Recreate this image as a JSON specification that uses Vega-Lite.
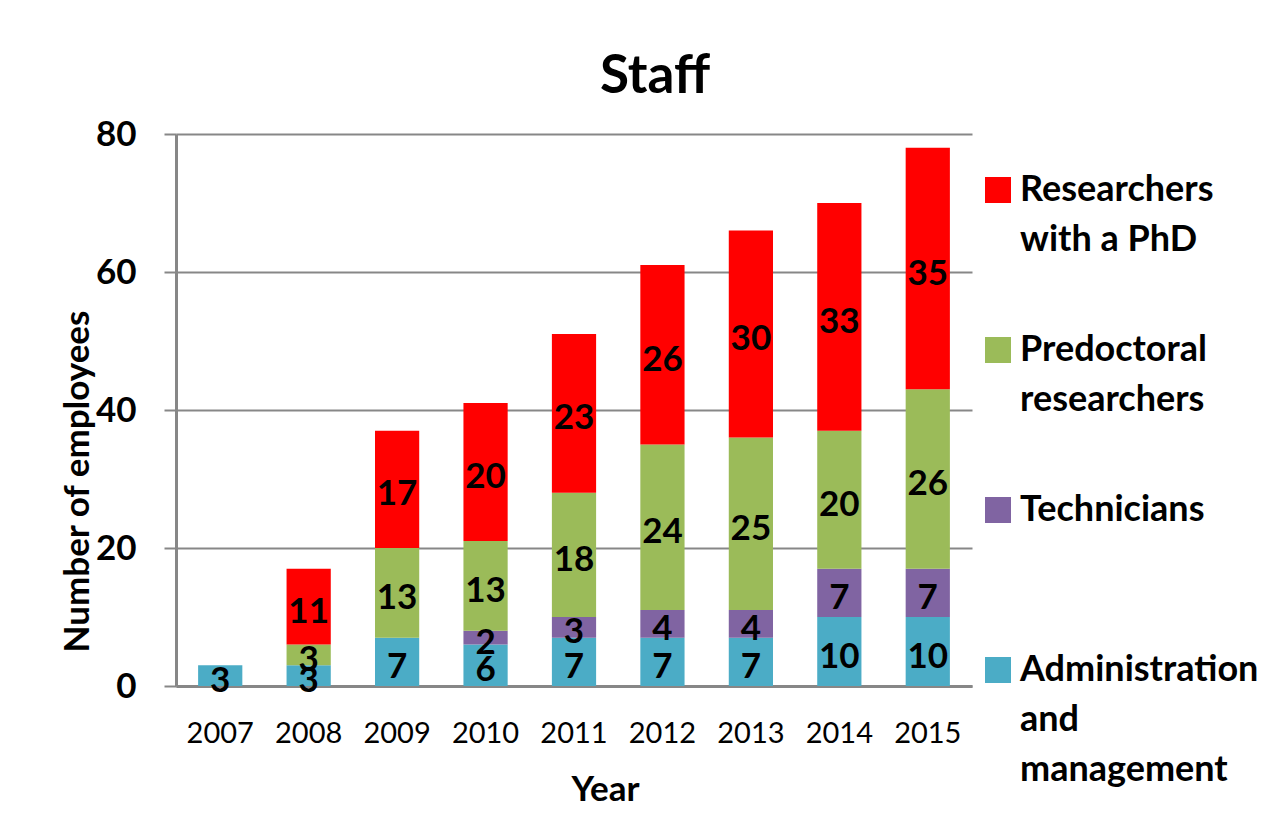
{
  "$schema": "https://vega.github.io/schema/vega-lite/v6.json",
  "width": 796,
  "height": 552,
  "autosize": "none",
  "padding": {"left": 176, "top": 134, "right": 309, "bottom": 146},
  "background": "white",
  "title": {"text": "Staff", "font": "Lato", "fontSize": 53, "fontWeight": "bold", "color": "black", "anchor": "middle", "dx": 81, "dy": 53, "offset": 24, "baseline": "alphabetic"},
  "data": {"values": [
    {"year": "2007", "category": "Administration and management", "employees": 3},
    {"year": "2008", "category": "Administration and management", "employees": 3},
    {"year": "2008", "category": "Predoctoral researchers", "employees": 3},
    {"year": "2008", "category": "Researchers with a PhD", "employees": 11},
    {"year": "2009", "category": "Administration and management", "employees": 7},
    {"year": "2009", "category": "Predoctoral researchers", "employees": 13},
    {"year": "2009", "category": "Researchers with a PhD", "employees": 17},
    {"year": "2010", "category": "Administration and management", "employees": 6},
    {"year": "2010", "category": "Technicians", "employees": 2},
    {"year": "2010", "category": "Predoctoral researchers", "employees": 13},
    {"year": "2010", "category": "Researchers with a PhD", "employees": 20},
    {"year": "2011", "category": "Administration and management", "employees": 7},
    {"year": "2011", "category": "Technicians", "employees": 3},
    {"year": "2011", "category": "Predoctoral researchers", "employees": 18},
    {"year": "2011", "category": "Researchers with a PhD", "employees": 23},
    {"year": "2012", "category": "Administration and management", "employees": 7},
    {"year": "2012", "category": "Technicians", "employees": 4},
    {"year": "2012", "category": "Predoctoral researchers", "employees": 24},
    {"year": "2012", "category": "Researchers with a PhD", "employees": 26},
    {"year": "2013", "category": "Administration and management", "employees": 7},
    {"year": "2013", "category": "Technicians", "employees": 4},
    {"year": "2013", "category": "Predoctoral researchers", "employees": 25},
    {"year": "2013", "category": "Researchers with a PhD", "employees": 30},
    {"year": "2014", "category": "Administration and management", "employees": 10},
    {"year": "2014", "category": "Technicians", "employees": 7},
    {"year": "2014", "category": "Predoctoral researchers", "employees": 20},
    {"year": "2014", "category": "Researchers with a PhD", "employees": 33},
    {"year": "2015", "category": "Administration and management", "employees": 10},
    {"year": "2015", "category": "Technicians", "employees": 7},
    {"year": "2015", "category": "Predoctoral researchers", "employees": 26},
    {"year": "2015", "category": "Researchers with a PhD", "employees": 35}
  ]},
  "transform": [
    {"calculate": "indexof(['Administration and management','Technicians','Predoctoral researchers','Researchers with a PhD'], datum.category)", "as": "stackorder"},
    {"stack": "employees", "groupby": ["year"], "sort": [{"field": "stackorder", "order": "ascending"}], "as": ["y0", "y1"]},
    {"calculate": "(datum.y0 + datum.y1) / 2", "as": "ymid"}
  ],
  "encoding": {
    "x": {
      "field": "year", "type": "ordinal",
      "scale": {"paddingInner": 0.5, "paddingOuter": 0.25},
      "axis": {
        "title": "Year", "titleFont": "Lato", "titleFontSize": 35, "titleFontWeight": "bold", "titleColor": "black",
        "titleX": 429, "titleY": 114, "titleBaseline": "alphabetic", "titleAlign": "center",
        "labelAngle": 0, "labelFont": "Lato", "labelFontSize": 29, "labelColor": "black", "labelPadding": 33,
        "ticks": false, "domainColor": "#878787", "domainWidth": 3, "grid": false
      }
    }
  },
  "layer": [
    {
      "mark": {"type": "bar"},
      "encoding": {
        "y": {
          "field": "y0", "type": "quantitative",
          "scale": {"domain": [0, 80], "nice": false},
          "axis": {
            "title": "Number of employees", "titleFont": "Lato", "titleFontSize": 35, "titleFontWeight": "bold", "titleColor": "black",
            "titleX": -88, "titleY": 347, "titleAngle": 270, "titleBaseline": "alphabetic", "titleAlign": "center",
            "values": [0, 20, 40, 60, 80],
            "labelFont": "Lato", "labelFontSize": 35, "labelFontWeight": "bold", "labelColor": "black", "labelPadding": 28,
            "tickSize": 12, "tickColor": "#878787", "tickWidth": 2,
            "domainColor": "#878787", "domainWidth": 3,
            "grid": true, "gridColor": "#878787", "gridWidth": 2
          }
        },
        "y2": {"field": "y1"},
        "color": {
          "field": "category", "type": "nominal",
          "scale": {
            "domain": ["Researchers with a PhD", "Predoctoral researchers", "Technicians", "Administration and management"],
            "range": ["#FF0000", "#9BBB59", "#8064A2", "#4BACC6"]
          },
          "legend": {
            "title": null, "orient": "none", "legendX": 804, "legendY": 38,
            "symbolType": "square", "symbolSize": 676, "symbolStrokeWidth": 0, "symbolOpacity": 1,
            "labelFont": "Lato", "labelFontSize": 36, "labelFontWeight": "bold", "labelColor": "black",
            "labelOffset": 4, "labelLimit": 400, "rowPadding": 24,
            "labelExpr": "datum.label == 'Researchers with a PhD' ? ['Researchers', 'with a PhD', ''] : datum.label == 'Predoctoral researchers' ? ['Predoctoral', 'researchers', ''] : datum.label == 'Technicians' ? ['Technicians', '', ''] : ['Administration', 'and', 'management']"
          }
        }
      }
    },
    {
      "mark": {"type": "text", "font": "Lato", "fontSize": 35, "fontWeight": "bold", "color": "black", "baseline": "middle", "dy": 5},
      "encoding": {
        "y": {"field": "ymid", "type": "quantitative"},
        "text": {"field": "employees", "type": "quantitative"}
      }
    }
  ],
  "config": {
    "view": {"stroke": null},
    "style": {"guide-label": {"lineHeight": 50}}
  }
}
